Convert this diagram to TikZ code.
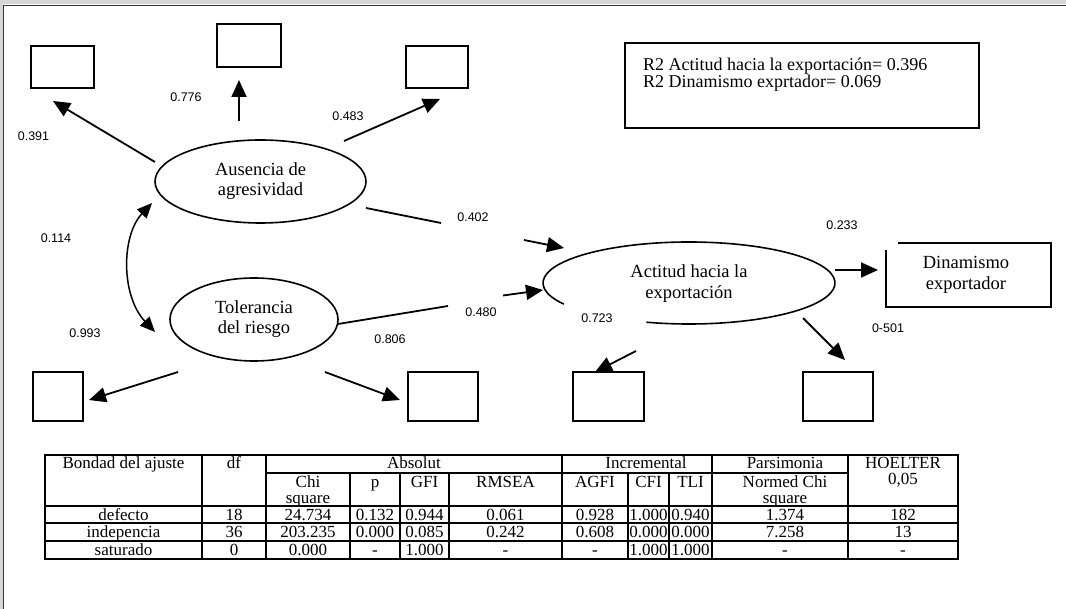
\documentclass[tikz,border=0pt]{standalone}
\usepackage{fontspec}
\setmainfont{Liberation Serif}
\newfontfamily\labfont{Liberation Sans}
\usetikzlibrary{arrows.meta,shapes.geometric}
\begin{document}
\begin{tikzpicture}[x=1pt,y=-1pt,
  latent/.style={ellipse,draw,line width=1.6pt,inner sep=0pt,align=center,font=\fontsize{18.5}{20}\selectfont},
  plaintext/.style={inner sep=0pt,align=center,font=\fontsize{18.5}{20.5}\selectfont},
  obox/.style={draw,line width=1.4pt,inner sep=0pt},
  lbl/.style={font=\labfont\fontsize{12.5}{14}\selectfont,inner sep=0pt},
  conn/.style={line width=1.8pt,-{Triangle[length=17pt,width=15pt]}},
  plainline/.style={line width=1.8pt},
  cell/.style={font=\fontsize{17}{17}\selectfont,inner sep=0pt,anchor=base},
  tline/.style={line width=1.2pt},
  r2text/.style={font=\fontsize{18}{20}\selectfont,inner sep=0pt,anchor=base west}
]
\useasboundingbox (0,0) rectangle (1066,609);
\fill[white] (0,0) rectangle (1066,609);
% window frame
\fill[black!16] (0,0) rectangle (1066,4.5);
\fill[black!16] (0,0) rectangle (2.7,609);
\draw[black!80,line width=1.3pt] (1066,5.2) -- (3.4,5.2) -- (3.4,609);

% latent variables
\node[latent,minimum width=211pt,minimum height=83pt] (aus) at (260.5,181.5) {Ausencia de\\agresividad};
\node[latent,minimum width=168pt,minimum height=83pt] (tol) at (254,319.5) {Tolerancia\\del riesgo};
\node[plaintext] (act) at (689,283.5) {Actitud hacia la\\exportación};
\draw[line width=1.6pt] (689,283) ++(149:146 and 41) arc[start angle=149,end angle=467,x radius=146,y radius=41];

% Dinamismo box
\node[plaintext] (din) at (966,275) {Dinamismo\\exportador};
\draw[line width=1.4pt] (886,250) -- (886,307) -- (1051,307) -- (1051,243) -- (898,243);

% indicator boxes
\node[obox,minimum width=63pt,minimum height=42pt] (btl) at (62.5,67) {};
\node[obox,minimum width=64pt,minimum height=43pt] (btm) at (249,45.5) {};
\node[obox,minimum width=62pt,minimum height=42pt] (btr) at (437,67) {};
\node[obox,minimum width=50pt,minimum height=49pt] (bbl) at (58,396.5) {};
\node[obox,minimum width=70pt,minimum height=49pt] (bbm) at (443,396.5) {};
\node[obox,minimum width=71pt,minimum height=49pt] (bll) at (608.5,396.5) {};
\node[obox,minimum width=70pt,minimum height=49pt] (blr) at (838,396.5) {};

% R2 box
\node[draw,line width=1.3pt,minimum width=354pt,minimum height=85pt,inner sep=0pt] (r2box) at (802,85.5) {};
\node[r2text] (r2a) at (643,71) {R2 Actitud hacia la exportación= 0.396};
\node[r2text] (r2b) at (643,88) {R2 Dinamismo exprtador= 0.069};

% connector end points
\coordinate (a1s) at (155,162); \coordinate (a1e) at (53,101);
\coordinate (a2s) at (239,121); \coordinate (a2e) at (239,80);
\coordinate (a3s) at (344,141); \coordinate (a3e) at (440,99);
\coordinate (a4s) at (178,372); \coordinate (a4e) at (89,400);
\coordinate (a5s) at (325,372); \coordinate (a5e) at (400,400);
\coordinate (p1s) at (366,208); \coordinate (p1m) at (441,223);
\coordinate (p1n) at (524,240); \coordinate (p1e) at (564,248);
\coordinate (p2s) at (338,324); \coordinate (p2m) at (448,306);
\coordinate (p2n) at (503,295.5); \coordinate (p2e) at (543,290);
\coordinate (p3s) at (835,270); \coordinate (p3e) at (878,270);
\coordinate (a6s) at (636,351); \coordinate (a6e) at (595,372);
\coordinate (a7s) at (803,318); \coordinate (a7e) at (845,360);
\coordinate (cvs) at (152,203); \coordinate (cve) at (155,332);

\draw[conn] (a1s) -- (a1e);
\draw[conn] (a2s) -- (a2e);
\draw[conn] (a3s) -- (a3e);
\draw[conn] (a4s) -- (a4e);
\draw[conn] (a5s) -- (a5e);
\draw[plainline] (p1s) -- (p1m);
\draw[conn] (p1n) -- (p1e);
\draw[plainline] (p2s) -- (p2m);
\draw[conn] (p2n) -- (p2e);
\draw[conn] (p3s) -- (p3e);
\draw[conn] (a6s) -- (a6e);
\draw[conn] (a7s) -- (a7e);
\draw[line width=1.5pt,{Triangle[length=15pt,width=13pt]}-{Triangle[length=15pt,width=13pt]}] (cvs) .. controls (121,236) and (121,296) .. (cve);

% coefficient labels
\node[lbl] (l1) at (186,97) {0.776};
\node[lbl] (l2) at (348,116) {0.483};
\node[lbl] (l3) at (33.5,136) {0.391};
\node[lbl] (l4) at (473,217) {0.402};
\node[lbl] (l5) at (56,238) {0.114};
\node[lbl] (l6) at (85,333) {0.993};
\node[lbl] (l7) at (481,312) {0.480};
\node[lbl] (l8) at (390,339) {0.806};
\node[lbl] (l9) at (842,225) {0.233};
\node[lbl] (l10) at (888,328) {0-501};
\node[lbl] (l11) at (597,318) {0.723};

% table lines
\draw[tline] (45,455) rectangle (958,559);
\draw[tline] (266,473) -- (848,473);
\foreach \y in {506,523,541} \draw[tline] (45,\y) -- (958,\y);
\foreach \x in {202,266,562,712,848} \draw[tline] (\x,455) -- (\x,559);
\foreach \x in {350,400,449,628,669} \draw[tline] (\x,473) -- (\x,559);

% table header
\node[cell] (h1) at (123.5,468.5) {Bondad del ajuste};
\node[cell] (h2) at (234,468.5) {df};
\node[cell] (h3) at (414,468.5) {Absolut};
\node[cell] (h4) at (646,468.5) {Incremental};
\node[cell] (h5) at (785,468.5) {Parsimonia};
\node[cell] (h6) at (903,468.5) {HOELTER};
\node[cell] (h7) at (903,484) {0,05};
\node[cell] (s1) at (308,488) {Chi};
\node[cell] (s2) at (308,503.5) {square};
\node[cell] (s3) at (375,488) {p};
\node[cell] (s4) at (424.5,488) {GFI};
\node[cell] (s5) at (505.5,488) {RMSEA};
\node[cell] (s6) at (595,488) {AGFI};
\node[cell] (s7) at (648.5,488) {CFI};
\node[cell] (s8) at (690.5,488) {TLI};
\node[cell] (s9) at (785,488) {Normed Chi};
\node[cell] (s10) at (785,503.5) {square};

% table body
\foreach \x/\t [count=\i] in {123.5/defecto,234/18,308/24.734,375/0.132,424.5/0.944,505.5/0.061,595/0.928,648.5/1.000,690.5/0.940,785/1.374,903/182}
  \node[cell] (ra\i) at (\x,520) {\t};
\foreach \x/\t [count=\i] in {123.5/indepencia,234/36,308/203.235,375/0.000,424.5/0.085,505.5/0.242,595/0.608,648.5/0.000,690.5/0.000,785/7.258,903/13}
  \node[cell] (rb\i) at (\x,537.5) {\t};
\foreach \x/\t [count=\i] in {123.5/saturado,234/0,308/0.000,375/-,424.5/1.000,505.5/-,595/-,648.5/1.000,690.5/1.000,785/-,903/-}
  \node[cell] (rc\i) at (\x,555.5) {\t};
\end{tikzpicture}
\end{document}
